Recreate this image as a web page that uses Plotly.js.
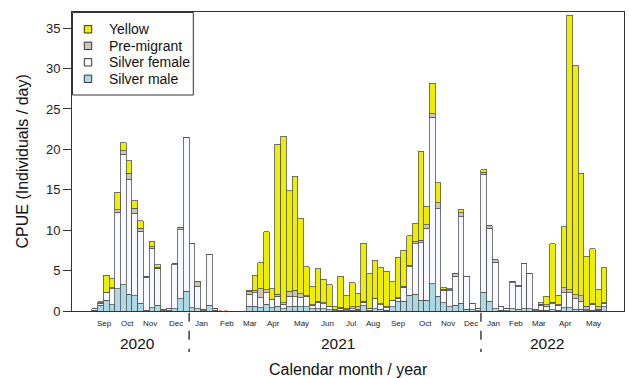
<!DOCTYPE html>
<html><head><meta charset="utf-8">
<script src="https://cdn.plot.ly/plotly-3.0.1.min.js"></script>
<style>html,body{margin:0;padding:0;background:#fff}#chart{width:629px;height:378px}</style>
</head><body><div id="chart"></div>
<script>
// Weekly CPUE components (bottom to top of each stack), weeks Sep 2020 - May 2022
const silverMale = [0.1,0.7,1.35,0.8,2.75,3.25,2.05,1.9,0.95,0.1,0.4,0.7,0.05,0.1,0.3,1.5,2.45,0.4,0.25,0.05,0.7,0.1,0,0,0,0,0,
  0.6,0.6,0.4,0.85,0.4,0.6,0.3,0.5,0.6,0.55,0.5,0.3,0.3,0.25,0.15,0.05,0.1,0.05,0.1,0.1,0.68,0.1,0.3,0.2,0.1,0.55,1.2,1.2,
  1.95,2.05,1.35,1.35,3.4,1.85,1.0,0.5,0.7,0.95,0.2,0.15,0.05,
  2.35,1.2,0.3,0.1,0.05,0.3,0.2,0.3,0.25,0.05,0.1,0.1,0.15,0.1,0.4,0.4,0.2,0.2,0.05,0.1,0.1,0.5];
const silverFemale = [0.2,0.25,0.9,1.95,9.45,16.15,14.25,10.2,8.9,4.1,7.35,4.6,0.1,0.2,5.4,8.55,19.05,7.9,2.8,0.1,6.35,0.25,0,0,0,0,0,
  1.5,1.65,1.25,1.4,1.0,1.2,0.55,1.35,1.15,1.1,1.3,0.4,0.8,0.65,0.35,0.1,0.25,0.1,0.15,0.1,0.4,0.15,1.2,0.6,0.3,0.7,0.35,1.75,
  3.55,6.3,7.1,8.9,20.6,10.8,1.55,2.0,3.6,10.7,4.1,0.8,0.2,
  14.6,9.05,5.75,0.4,0.2,3.2,2.8,5.56,4.45,0.1,0.6,0.5,0.75,0.6,1.85,1.85,1.3,1.0,0.1,0.75,0.1,0.45];
const preMigrant = [0,0.05,0.1,0.1,0.3,0.45,0.75,0.6,0.4,0.1,0.2,0.1,0,0,0.15,0.3,0,0,0.55,0,0,0,0,0,0,0,0,
  0.35,0.3,1.1,0.4,0.05,0.25,0.15,0.6,0.8,0.5,0.1,0.1,0.1,0.1,0.1,0.05,0.1,0.1,0.25,0.3,0.13,0.1,0.1,0.1,0.1,0.1,0.1,0.1,
  0.15,0.3,0.3,0.4,0.4,0.75,0.15,0.15,0.33,0.5,0,0,0,
  0.2,0.3,0.3,0,0,0.2,0.2,0,0,0,0.15,0.15,0.2,0.1,0.6,0.4,0.5,0.7,0.45,0.1,0.3,0.1];
const yellow = [0,0.15,2.05,1.15,2.2,0.95,1.55,0.95,0.9,0,0.7,0.35,0,0,0,0,0,0,0,0,0,0,0,0,0,0,0,
  0.1,1.85,3.2,7.15,1.3,18.6,20.65,12.45,14.15,9.25,3.6,2.26,4.0,2.9,2.67,0.4,3.85,1.65,2.98,1.62,7.2,4.24,4.65,4.43,4.42,2.25,5.0,4.45,
  3.67,2.15,11.0,2.3,3.8,2.45,0.15,0.1,0,0.4,0,0,0,
  0.3,0,0,0,0,0,0,0,0,0,0.15,1.05,7.2,1.1,7.6,33.95,28.43,15.15,6.17,6.73,2.15,4.3];
const weekIndex = silverMale.map((_, i) => i);

const seriesNames = ['Silver male','Silver female','Pre-migrant','Yellow'];
const legendOrder = ['Yellow','Pre-migrant','Silver female','Silver male'];
const monthLabels = ['Sep','Oct','Nov','Dec','Jan','Feb','Mar','Apr','May','Jun','Jul','Aug','Sep','Oct','Nov','Dec','Jan','Feb','Mar','Apr','May'];
const yearLabels = ['2020','2021','2022'];
const markedWeeks = [5,6,7,8,10,14,15,16,33,35,36,37,55,56,57,58,59,60,61,63,64,65];

// positions (axis units)
const monthPos = [1.73,5.73,9.66,14.15,18.65,23.14,27.21,31.21,36.21,40.7,44.77,48.7,53.1,57.8,61.76,65.7,69.7,73.6,77.6,82.25,87.2];
const yearPos = [7.56,42.55,79.05];
const yearBreaks = [16.5,67.5];
const noSampling = [21.66,23.58];

const colors = {'Silver male':'#ADD8E6','Silver female':'#F8F8FF','Pre-migrant':'#CDC8B1','Yellow':'#EEEE00'};
const values = {'Silver male':silverMale,'Silver female':silverFemale,'Pre-migrant':preMigrant,'Yellow':yellow};
const FONT = 'Liberation Sans, Arial, Helvetica, sans-serif';

// plot-area geometry in pixels
const PL = 72, PR = 624, PT = 12, PB = 311;
const px = v => (v - PL) / (PR - PL);
const py = v => (PB - v) / (PB - PT);

const traces = seriesNames.map(n => ({
  type:'bar', x: weekIndex, y: values[n], name:n, width:1, showlegend:false,
  marker:{color:colors[n], line:{color:'#555', width:0.8}}
}));
traces.push({
  type:'scatter', mode:'markers', x: markedWeeks, y: markedWeeks.map(() => -0.45),
  marker:{symbol:'triangle-up', size:5, color:'#888'}, cliponaxis:false, showlegend:false, hoverinfo:'skip'
});

const annotations = [];
monthLabels.forEach((m,i) => annotations.push({x:monthPos[i], y:-0.041, xref:'x', yref:'paper', text:m, showarrow:false,
  font:{family:FONT, size:8, color:'#222'}, xanchor:'center', yanchor:'middle'}));
yearLabels.forEach((t,i) => annotations.push({x:yearPos[i], y:-0.110, xref:'x', yref:'paper', text:t, showarrow:false,
  font:{family:FONT, size:15.5, color:'#111'}, xanchor:'center', yanchor:'middle'}));
annotations.push({x:px(348), y:-0.194, xref:'paper', yref:'paper', text:'Calendar month / year', showarrow:false,
  font:{family:FONT, size:16, color:'#111'}, xanchor:'center', yanchor:'middle'});
annotations.push({x:px(22), y:0.5, xref:'paper', yref:'paper', text:'CPUE (Individuals / day)', showarrow:false, textangle:-90,
  font:{family:FONT, size:16, color:'#111'}, xanchor:'center', yanchor:'middle'});

const shapes = yearBreaks.map(b => ({type:'line', xref:'x', yref:'paper', x0:b, x1:b, y0:-0.006, y1:-0.137,
  line:{color:'#111', width:1.2, dash:'dash'}}));
shapes.push({type:'line', xref:'x', yref:'y', x0:noSampling[0], x1:noSampling[1], y0:0, y1:0,
  line:{color:'#ff5050', width:1.5, dash:'dot'}});

// legend box (drawn as shapes + text)
shapes.push({type:'rect', xref:'paper', yref:'paper', x0:px(72.5), x1:px(193.3), y0:py(95), y1:py(12.5),
  fillcolor:'#fff', line:{color:'#333', width:1}});
const legRows = [29.3, 45.8, 62.3, 78.8];
legendOrder.forEach((n,i) => {
  const cy = legRows[i];
  shapes.push({type:'rect', xref:'paper', yref:'paper', x0:px(84.3), x1:px(91.7), y0:py(cy+3.7), y1:py(cy-3.7),
    fillcolor:colors[n], line:{color:'#333', width:1}});
  annotations.push({x:px(106.5), y:py(cy), xref:'paper', yref:'paper', text:n, showarrow:false,
    font:{family:FONT, size:14, color:'#111'}, xanchor:'left', yanchor:'middle'});
});

const layout = {
  width:629, height:378, margin:{l:PL, r:629-PR, t:PT, b:378-PB},
  paper_bgcolor:'#fff', plot_bgcolor:'#fff',
  barmode:'stack', bargap:0, showlegend:false,
  font:{family:FONT, color:'#222'},
  xaxis:{range:[-3.97,92.5], showline:true, mirror:true, linecolor:'#333', linewidth:1,
    showticklabels:false, ticks:'', showgrid:false, zeroline:false, fixedrange:true},
  yaxis:{range:[0,37], tickvals:[0,5,10,15,20,25,30,35], ticks:'outside', ticklen:8, tickcolor:'#333',
    showline:true, mirror:true, linecolor:'#333', linewidth:1, showgrid:false, zeroline:false,
    tickfont:{family:FONT, size:13, color:'#222'}},
  annotations, shapes
};
Plotly.newPlot('chart', traces, layout, {displayModeBar:false, staticPlot:true});
</script></body></html>
